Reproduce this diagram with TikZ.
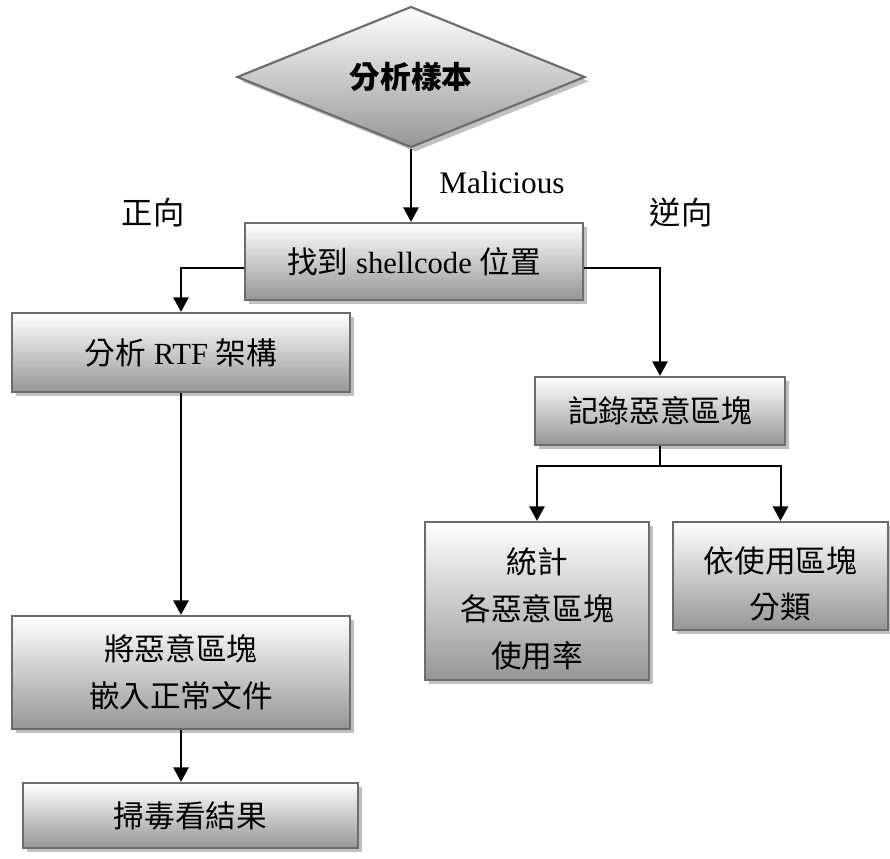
\documentclass[tikz,border=0pt]{standalone}
\usepackage{fontspec}
\setmainfont{Liberation Serif}
\newfontfamily\cjk{Noto Sans CJK TC}
\usetikzlibrary{shapes.geometric,shadows,arrows.meta}

\definecolor{boxedge}{RGB}{108,108,108}
\definecolor{boxlow}{RGB}{150,150,150}
\definecolor{shadowgray}{RGB}{192,192,192}

\tikzset{
  shaded3d/.style={draw=boxedge, line width=1.6pt, top color=white, bottom color=boxlow,
    drop shadow={shadow xshift=3.2pt, shadow yshift=-3.2pt, fill=shadowgray, opacity=1}},
  flowbox/.style={shaded3d, rectangle, inner sep=2pt, align=center,
    font=\fontsize{23pt}{35pt}\selectfont},
  decision/.style={shaded3d, diamond, inner sep=0pt, align=center, aspect=2.47,
    font=\fontsize{23pt}{26pt}\selectfont},
  tag/.style={font=\fontsize{23.5pt}{26pt}\selectfont, inner sep=0pt},
  conn/.style={line width=1.5pt, black},
  arr/.style={conn, -{Triangle[width=11.5pt,length=11pt]}}
}
% taller first line, so that the lines sit a little below the box centre
\newcommand{\lowerlines}{\rule{0pt}{31pt}}

\begin{document}
\begin{tikzpicture}[x=0.75pt,y=-0.75pt]
  \useasboundingbox (0,0) rectangle (890,859);

  % decision and process boxes
  \node[decision, minimum width=261pt, minimum height=105.75pt] (d) at (411,77)
    {\cjk\bfseries 分析樣本};
  \node[flowbox, minimum width=253.5pt, minimum height=57.75pt] (b1) at (414,261.5)
    {{\cjk 找到} shellcode {\cjk 位置}};
  \node[flowbox, minimum width=253.5pt, minimum height=59.25pt] (b2) at (181,352.5)
    {{\cjk 分析} RTF {\cjk 架構}};
  \node[flowbox, minimum width=187.5pt, minimum height=51pt] (b3) at (660,411)
    {\cjk 記錄惡意區塊};
  \node[flowbox, minimum width=168pt, minimum height=118.5pt] (b4) at (537,601)
    {\lowerlines\cjk 統計\\\cjk 各惡意區塊\\\cjk 使用率};
  \node[flowbox, minimum width=161.25pt, minimum height=81pt] (b5) at (780.5,576)
    {\lowerlines\cjk 依使用區塊\\\cjk 分類};
  \node[flowbox, minimum width=253.5pt, minimum height=84.75pt] (b6) at (181,672.5)
    {\cjk 將惡意區塊\\\cjk 嵌入正常文件};
  \node[flowbox, minimum width=251.25pt, minimum height=48.75pt] (b7) at (190.5,815.5)
    {\cjk 掃毒看結果};

  % labels
  \node[tag] (mal) at (502,183) {Malicious};
  \node[tag] (fwd) at (153,213) {\cjk 正向};
  \node[tag] (rev) at (681,213) {\cjk 逆向};

  % junction points
  \coordinate (jl) at (181,268);
  \coordinate (jr) at (660,268);
  \coordinate (split) at (660,466);

  % connectors
  \draw[arr] (d.south) -- (d.south |- b1.north);
  \draw[arr] (b1.west |- jl) -| (b2.north);
  \draw[arr] (b1.east |- jr) -| (b3.north);
  \draw[conn] (b3.south) -- (split);
  \draw[arr] (split) -| (b4.north);
  \draw[arr] (split) -| (b5.north);
  \draw[arr] (b2.south) -- (b6.north);
  \draw[arr] (b6.south) -- (b6.south |- b7.north);
\end{tikzpicture}
\end{document}
